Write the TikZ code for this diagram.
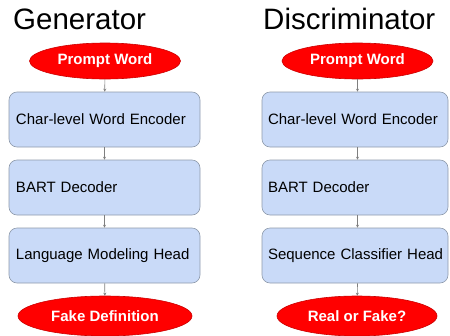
\documentclass[tikz,border=0pt]{standalone}
\usepackage{fontspec}
\setmainfont{Liberation Sans}
\usetikzlibrary{shapes.geometric,arrows.meta}
\definecolor{boxfill}{HTML}{C9DAF8}
\definecolor{boxline}{HTML}{8E9AAB}
\definecolor{ellred}{HTML}{FF0000}
\definecolor{ellline}{HTML}{CC0000}
\definecolor{arrgray}{HTML}{7F7F7F}
\tikzset{
  ell/.style={ellipse, fill=ellred, draw=ellline, line width=0.6pt, inner sep=0pt,
    minimum height=36pt, text=white, font=\fontsize{15}{17}\selectfont\bfseries},
  blk/.style={rectangle, rounded corners=8pt, fill=boxfill, draw=boxline, line width=0.6pt,
    minimum height=55pt, inner xsep=7pt, align=left,
    font=\fontsize{15}{17}\selectfont},
  ttl/.style={anchor=base west, inner sep=0pt, font=\fontsize{29.5}{32}\selectfont},
  conn/.style={draw=arrgray, line width=0.6pt, -{Stealth[length=3pt,width=3pt]}}
}
\begin{document}
\begin{tikzpicture}[x=1pt,y=-1pt]
\clip (0,0) rectangle (450,335);
\useasboundingbox (0,0) rectangle (450,335);
% Generator
\node[ttl] (tg) at (13,29) {Generator};
\node[ell, minimum width=151pt] (gp) at (105,61) {Prompt Word};
\node[blk, text width=177pt] (g1) at (104.5,119.5) {Char-level Word Encoder};
\node[blk, text width=177pt] (g2) at (104.5,187.5) {BART Decoder};
\node[blk, text width=177pt] (g3) at (104.5,255.5) {Language Modeling Head};
\node[ell, minimum width=174pt, minimum height=40pt] (go) at (105,316) {Fake Definition};
\draw[conn] (gp) -- (g1);
\draw[conn] (g1) -- (g2);
\draw[conn] (g2) -- (g3);
\draw[conn] (g3) -- (go);
% Discriminator
\node[ttl] (td) at (263,29) {Discriminator};
\node[ell, minimum width=151pt] (dp) at (357.5,61) {Prompt Word};
\node[blk, text width=174pt, inner xsep=6pt] (d1) at (355,119.5) {Char-level Word Encoder};
\node[blk, text width=174pt, inner xsep=6pt] (d2) at (355,187.5) {BART Decoder};
\node[blk, text width=174pt, inner xsep=6pt] (d3) at (355,255.5) {\mbox{Sequence Classifier Head}};
\node[ell, minimum width=160pt, minimum height=40pt] (do) at (357,316) {Real or Fake?};
\draw[conn] (dp) -- (dp |- d1.north);
\draw[conn] (d1.south -| dp) -- (dp |- d2.north);
\draw[conn] (d2.south -| dp) -- (dp |- d3.north);
\draw[conn] (d3.south -| dp) -- (do);
\end{tikzpicture}
\end{document}
